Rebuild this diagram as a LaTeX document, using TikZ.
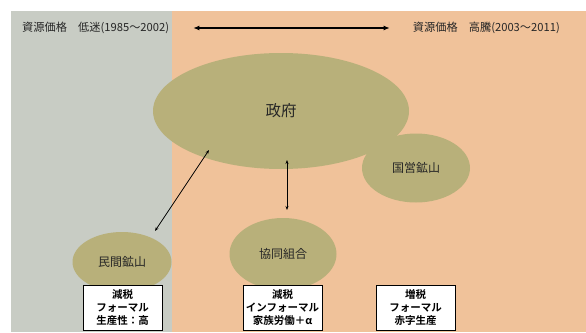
\documentclass[tikz,border=0pt]{standalone}
\usepackage{fontspec}
\setmainfont{Noto Sans CJK JP}[BoldFont={Noto Sans CJK JP Bold}]
\usetikzlibrary{arrows.meta,calc,shapes.geometric}
\definecolor{graybg}{HTML}{C8CCC4}
\definecolor{orangebg}{HTML}{F0C29A}
\definecolor{olive}{HTML}{B8B07A}
\definecolor{ink}{HTML}{262626}
\tikzset{
  blob/.style={ellipse, fill=olive, inner sep=0pt, text=ink},
  hdr/.style={text=ink, inner sep=0pt, font=\fontsize{11.2}{13}\selectfont},
  taxbox/.style={draw=black, line width=0.8pt, fill=white, minimum width=79pt, minimum height=45pt, inner sep=0pt, align=center, font=\bfseries\fontsize{10.5}{13}\selectfont},
  link/.style={{Stealth[length=4pt,width=3pt]}-{Stealth[length=4pt,width=3pt]}, line width=0.8pt},
  bigarrow/.style={{Latex[length=6pt,width=5pt]}-{Latex[length=6pt,width=5pt]}, line width=1.5pt}
}
\begin{document}
\begin{tikzpicture}[x=1pt,y=-1pt]
\useasboundingbox (0,0) rectangle (586,332);
\fill[white] (0,0) rectangle (586,332);
\fill[graybg] (11,11) rectangle (172,332);
\fill[orangebg] (172,11) rectangle (586,332);
\node[hdr, anchor=west] (lt) at (22,28) {資源価格　低迷(1985～2002)};
\node[hdr, anchor=east] (rt) at (560,28) {資源価格　高騰(2003～2011)};
\draw[bigarrow, shorten <=24pt, shorten >=23pt] (lt.east) -- (rt.west);
\node[blob, minimum width=256pt, minimum height=116pt, font=\fontsize{15.5}{17}\selectfont] (gov) at (281,111) {政府};
\node[blob, minimum width=108pt, minimum height=69pt, font=\fontsize{12}{13}\selectfont] (state) at (416,168) {国営鉱山};
\node[blob, minimum width=107pt, minimum height=72pt, font=\fontsize{12}{13}\selectfont] (coop) at (283,254) {協同組合};
\node[blob, minimum width=99pt, minimum height=60pt, font=\fontsize{12}{13}\selectfont] (priv) at (122,262) {民間鉱山};
\coordinate (d1) at ($(gov)+(-72,39)$);
\coordinate (d2) at ($(priv)+(33,-31)$);
\coordinate (v1) at ($(gov)+(6,49)$);
\coordinate (v2) at ($(coop)+(4,-44)$);
\draw[link] (d1) -- (d2);
\draw[link] (v1) -- (v2);
\node[taxbox] (b1) at (122.5,307.5) {減税\\フォーマル\\生産性：高};
\node[taxbox] (b2) at (282.5,307.5) {減税\\インフォーマル\\家族労働＋α};
\node[taxbox] (b3) at (415.5,307.5) {増税\\フォーマル\\赤字生産};
\end{tikzpicture}
\end{document}
